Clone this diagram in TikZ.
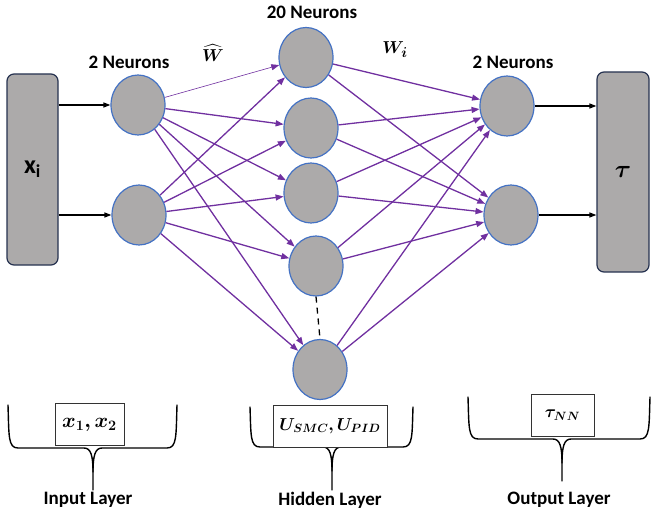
\documentclass[tikz,border=0pt]{standalone}
\usepackage{amsmath,bm}
\usepackage{fontspec}
\setmainfont{Carlito}
\usetikzlibrary{arrows.meta,shapes.geometric}
\definecolor{nfill}{RGB}{172,170,170}
\definecolor{nblue}{RGB}{68,114,196}
\definecolor{epurp}{RGB}{112,48,160}
\definecolor{bnavy}{RGB}{38,50,80}
\newcommand\layerbrace[6]{%
  \draw[brace] (#1,#3) .. controls (#1+1,#4-12) and (#1,#4) .. (#1+10,#4) -- (#5-9,#4)
     .. controls (#5-2,#4) and (#5,#4+8) .. (#5,#4+24) -- (#5,#6);
  \draw[brace] (#2,#3) .. controls (#2-1,#4-12) and (#2,#4) .. (#2-10,#4) -- (#5+9,#4)
     .. controls (#5+2,#4) and (#5,#4+8) .. (#5,#4+24);
}
\begin{document}
\begin{tikzpicture}[x=1pt,y=-1pt,
  neuron/.style={ellipse, draw=nblue, fill=nfill, line width=1.2pt, minimum width=54pt, minimum height=60pt, inner sep=0pt},
  iobox/.style={rectangle, rounded corners=7pt, draw=bnavy, fill=nfill, line width=1.2pt, minimum width=51pt},
  lbl/.style={font=\fontsize{19}{21}\selectfont\bfseries},
  wire/.style={draw=epurp, line width=1.3pt, -{Triangle[length=8pt,width=6pt]}},
  feed/.style={draw=black, line width=1.2pt, -{Triangle[length=7pt,width=5pt]}},
  mbox/.style={draw=black!80, line width=0.8pt, fill=white, inner sep=0pt, minimum height=42pt},
  brace/.style={draw=black, line width=1.4pt, line cap=round}
]
\useasboundingbox (0,0) rectangle (652,516);

% input / output boxes
\node[iobox, minimum height=191pt] (inbox) at (32.5,169.5) {\fontsize{26}{28}\selectfont\bfseries x\textsubscript{i}};
\node[iobox, minimum height=200pt, minimum width=52pt] (outbox) at (623,172) {\fontsize{24}{26}\selectfont$\boldsymbol{\tau}$};

% neurons
\node[neuron] (I1) at (138,105) {};
\node[neuron] (I2) at (139,215) {};
\node[neuron] (H1) at (306,57.5) {};
\node[neuron] (H2) at (311,128) {};
\node[neuron] (H3) at (311,193) {};
\node[neuron] (H4) at (316,266) {};
\node[neuron] (H5) at (320,369.5) {};
\node[neuron] (O1) at (507,106) {};
\node[neuron] (O2) at (511,215) {};

% labels
\node[lbl] (l20) at (312,12) {20 Neurons};
\node[lbl] (l2a) at (129,62) {2 Neurons};
\node[lbl] (l2b) at (513,62) {2 Neurons};
\node[inner sep=0pt] (what) at (213,53) {\fontsize{17}{19}\selectfont$\boldsymbol{\widehat{W}}$};
\node[inner sep=0pt] (wi) at (395,50) {\fontsize{19}{21}\selectfont$\boldsymbol{W_i}$};

% feed arrows
\draw[feed] (inbox.east |- I1) -- (I1);
\draw[feed] (inbox.east |- I2) -- (I2);
\draw[feed] (O1) -- (outbox.west |- O1);
\draw[feed] (O2) -- (outbox.west |- O2);

% input -> hidden
\draw[wire, line width=0.6pt] (I1) -- (H1);
\foreach \h in {H2,H3,H4,H5} \draw[wire] (I1) -- (\h);
\foreach \h in {H1,H2,H3,H4,H5} \draw[wire] (I2) -- (\h);
% hidden -> output
\foreach \h in {H1,H2,H3,H4,H5} {
  \draw[wire] (\h) -- (O1);
  \draw[wire] (\h) -- (O2);
}
% dashed ellipsis
\draw[black, line width=1.3pt, dash pattern=on 6pt off 5pt] (H4.south) -- (H5.north);

% braces
\layerbrace{8}{177}{405}{448}{93}{490}
\layerbrace{250}{413}{407}{447}{332}{490}
\layerbrace{468}{650}{397}{439}{562}{481}

% boxed labels
\node[mbox, minimum width=69pt] (bin) at (89.5,424.5) {\fontsize{21}{23}\selectfont$\boldsymbol{x_1, x_2}$};
\node[mbox, minimum width=114pt] (bhid) at (330,426) {\fontsize{18}{20}\selectfont$\boldsymbol{U_{SMC}, U_{PID}}$};
\node[mbox, minimum width=63pt] (bout) at (562.5,415) {\fontsize{18}{20}\selectfont$\boldsymbol{\tau_{NN}}$};

% layer names
\node[lbl] (lin) at (88,500) {Input Layer};
\node[lbl] (lhid) at (330,500) {Hidden Layer};
\node[lbl] (lout) at (559,500) {Output Layer};
\end{tikzpicture}
\end{document}
